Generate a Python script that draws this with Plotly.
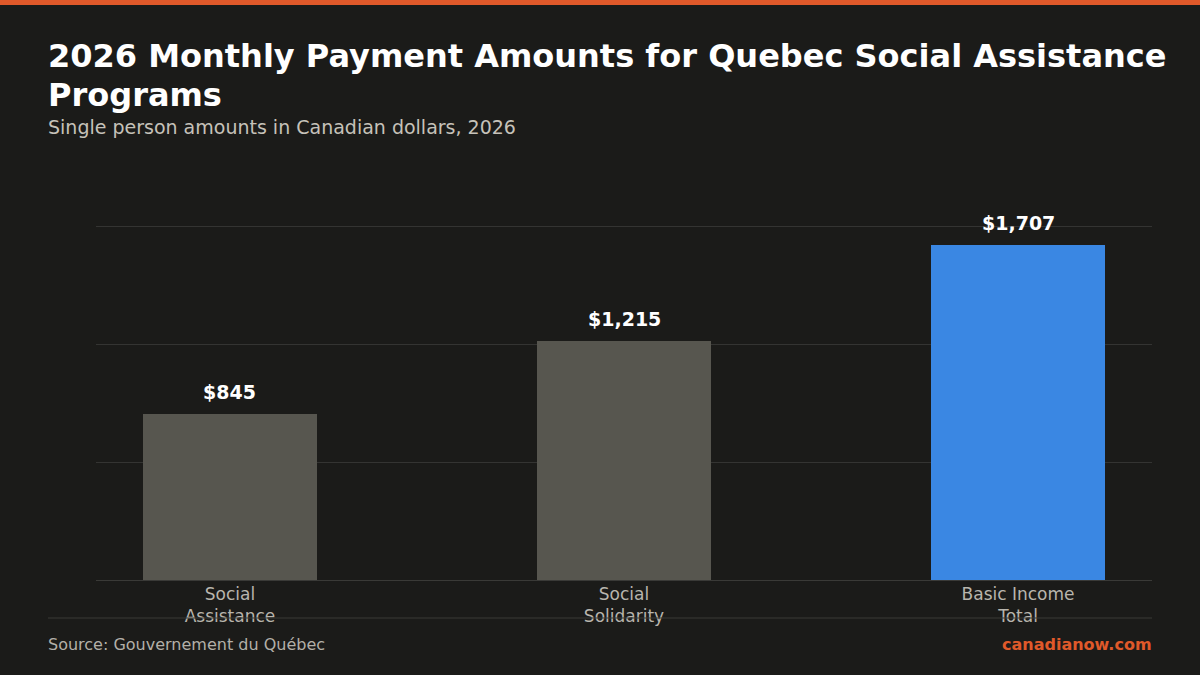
import plotly.graph_objects as go

categories = ["Social<br>Assistance", "Social<br>Solidarity", "Basic Income<br>Total"]
values = [845, 1215, 1707]
value_labels = ["$845", "$1,215", "$1,707"]
bar_colors = ["#57564f", "#57564f", "#3a87e3"]
grid_vals = [0, 600, 1200, 1800]

BG = "#1b1b19"
W, H = 1200, 675
L, R, T, B = 96, 48, 190, 95
plot_h = H - T - B
px_per_unit = 0.1965
y_top = plot_h / px_per_unit

def py(y_pixel):
    return (H - B - y_pixel) / plot_h

def px(x_pixel):
    return (x_pixel - L) / (W - L - R)

fig = go.Figure()
fig.add_trace(go.Bar(
    x=list(range(len(categories))),
    y=values,
    marker=dict(color=bar_colors, line=dict(width=0)),
    width=0.44,
    hoverinfo="skip",
))

annotations = []
for i, (v, lab) in enumerate(zip(values, value_labels)):
    annotations.append(dict(
        x=i, y=v, xref="x", yref="y", text=f"<b>{lab}</b>", showarrow=False,
        yanchor="bottom", yshift=9,
        font=dict(family="DejaVu Sans", size=19, color="#ffffff"),
    ))

annotations += [
    dict(x=px(46), y=py(35), xref="paper", yref="paper", xanchor="left", yanchor="top",
         align="left", showarrow=False,
         text="<b>2026 Monthly Payment Amounts for Quebec Social Assistance</b>",
         font=dict(family="DejaVu Sans", size=32, color="#ffffff")),
    dict(x=px(46), y=py(74), xref="paper", yref="paper", xanchor="left", yanchor="top",
         align="left", showarrow=False,
         text="<b>Programs</b>",
         font=dict(family="DejaVu Sans", size=32, color="#ffffff")),
    dict(x=px(46), y=py(127), xref="paper", yref="paper", xanchor="left", yanchor="middle",
         showarrow=False, text="Single person amounts in Canadian dollars, 2026",
         font=dict(family="DejaVu Sans", size=19, color="#c6c2b9")),
    dict(x=px(46), y=py(644), xref="paper", yref="paper", xanchor="left", yanchor="middle",
         showarrow=False, text="Source: Gouvernement du Québec",
         font=dict(family="DejaVu Sans", size=16, color="#b3b0a8")),
    dict(x=px(1154), y=py(644), xref="paper", yref="paper", xanchor="right", yanchor="middle",
         showarrow=False, text="<b>canadianow.com</b>",
         font=dict(family="DejaVu Sans", size=16, color="#e0592a")),
]

shapes = [
    dict(type="rect", xref="paper", yref="paper", x0=px(0), x1=px(W), y0=py(5), y1=py(0),
         fillcolor="#e0592a", line=dict(width=0), layer="above"),
    dict(type="line", xref="paper", yref="paper", x0=px(48), x1=px(1152), y0=py(618), y1=py(618),
         line=dict(color="#3a3a37", width=1)),
]

fig.update_layout(
    width=W, height=H,
    paper_bgcolor=BG, plot_bgcolor=BG,
    margin=dict(l=L, r=R, t=T, b=B, pad=0),
    showlegend=False,
    bargap=0,
    xaxis=dict(
        range=[-0.34, 2.34],
        tickvals=list(range(len(categories))),
        ticktext=categories,
        tickfont=dict(family="DejaVu Sans", size=17, color="#b8b5ad"),
        showgrid=False, zeroline=False, showline=False, ticks="",
        ticklabelstandoff=2,
        fixedrange=True,
    ),
    yaxis=dict(
        range=[0, y_top],
        tickvals=grid_vals,
        showticklabels=False,
        showgrid=True, gridcolor="#343432", gridwidth=1,
        zeroline=True, zerolinecolor="#3a3a37", zerolinewidth=1,
        showline=False, ticks="",
        fixedrange=True,
    ),
    annotations=annotations,
    shapes=shapes,
)

fig.write_html(
    "out.html",
    config={"displayModeBar": False},
    post_script="document.body.style.margin='0';document.body.style.background='#1b1b19';",
)
